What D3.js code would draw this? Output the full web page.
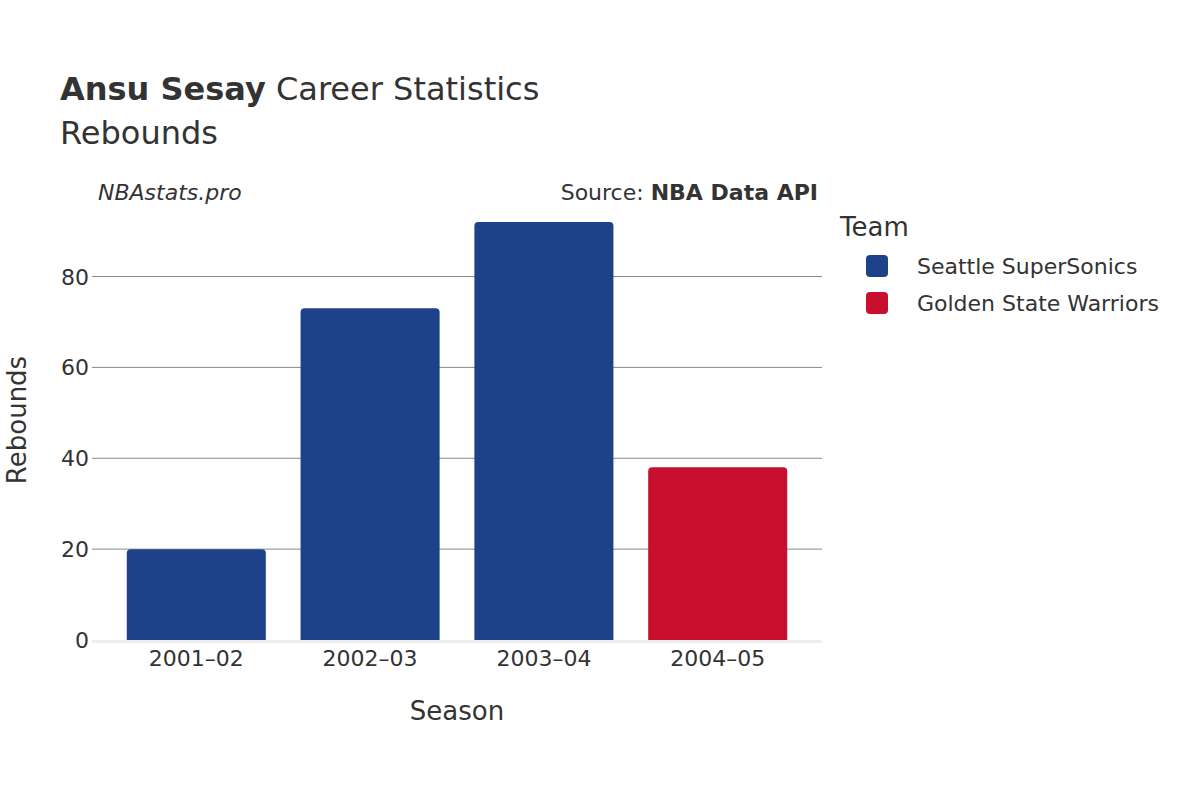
<!DOCTYPE html>
<html><head><meta charset="utf-8">
<script src="https://cdn.jsdelivr.net/npm/d3@7"></script>
<style>body{margin:0;background:#fff}svg{font-family:"DejaVu Sans",sans-serif}</style>
</head><body><svg id="c" width="1200" height="800"></svg>
<script>
const seasons=["2001–02","2002–03","2003–04","2004–05"];
const rebounds=[20,73,92,38];
const teams=["Seattle SuperSonics","Seattle SuperSonics","Seattle SuperSonics","Golden State Warriors"];
const legendTeams=["Seattle SuperSonics","Golden State Warriors"];
const teamColors=["#1d428a","#c8102e"];
const yTicks=[0,20,40,60,80];

const svg=d3.select("#c");
const L=92,R=822,T=222,B=640;
const x=d3.scaleBand().domain(seasons).range([L,R]).padding(0.2);
const y=d3.scaleLinear().domain([0,92]).range([B,T]);
const col=d3.scaleOrdinal().domain(legendTeams).range(teamColors);
const tc="#333";

svg.append("g").selectAll("line").data(yTicks.slice(1)).join("line")
 .attr("x1",L).attr("x2",R).attr("y1",d=>y(d)).attr("y2",d=>y(d)).attr("stroke","#888").attr("stroke-width",1);
svg.append("line").attr("x1",L).attr("x2",R).attr("y1",B+1.5).attr("y2",B+1.5).attr("stroke","#eee").attr("stroke-width",3);

svg.append("g").selectAll("path").data(rebounds).join("path")
 .attr("fill",(d,i)=>col(teams[i]))
 .attr("d",(d,i)=>{const x0=x(seasons[i]),w=x.bandwidth(),y0=y(d),r=4;
   return `M${x0},${B}V${y0+r}Q${x0},${y0} ${x0+r},${y0}H${x0+w-r}Q${x0+w},${y0} ${x0+w},${y0+r}V${B}Z`;});

svg.append("g").selectAll("text").data(yTicks).join("text")
 .attr("x",L-3).attr("y",d=>y(d)+8).attr("text-anchor","end").attr("font-size",22).attr("fill",tc).text(d=>d);
svg.append("g").selectAll("text").data(seasons).join("text")
 .attr("x",d=>x(d)+x.bandwidth()/2).attr("y",666).attr("text-anchor","middle").attr("font-size",22).attr("fill",tc).text(d=>d);

svg.append("text").attr("x",457).attr("y",720).attr("text-anchor","middle").attr("font-size",26).attr("fill",tc).text("Season");
svg.append("text").attr("transform","translate(26,420) rotate(-90)").attr("text-anchor","middle").attr("font-size",26).attr("fill",tc).text("Rebounds");

const t=svg.append("text").attr("x",60).attr("y",100).attr("font-size",32).attr("fill",tc);
t.append("tspan").attr("font-weight","bold").text("Ansu Sesay");
t.append("tspan").text(" Career Statistics");
svg.append("text").attr("x",60).attr("y",144).attr("font-size",32).attr("fill",tc).text("Rebounds");

svg.append("text").attr("x",98).attr("y",200).attr("font-size",22).attr("font-style","italic").attr("fill",tc).text("NBAstats.pro");
const s=svg.append("text").attr("x",818).attr("y",200).attr("text-anchor","end").attr("font-size",22).attr("fill",tc);
s.append("tspan").text("Source: ");
s.append("tspan").attr("font-weight","bold").text("NBA Data API");

svg.append("text").attr("x",840).attr("y",236).attr("font-size",26).attr("fill",tc).text("Team");
const lg=svg.append("g").selectAll("g").data(legendTeams).join("g").attr("transform",(d,i)=>`translate(0,${266+i*37})`);
lg.append("rect").attr("x",866).attr("y",-11).attr("width",22).attr("height",22).attr("rx",4).attr("fill",d=>col(d));
lg.append("text").attr("x",917).attr("y",8).attr("font-size",22).attr("fill",tc).text(d=>d);
</script></body></html>
